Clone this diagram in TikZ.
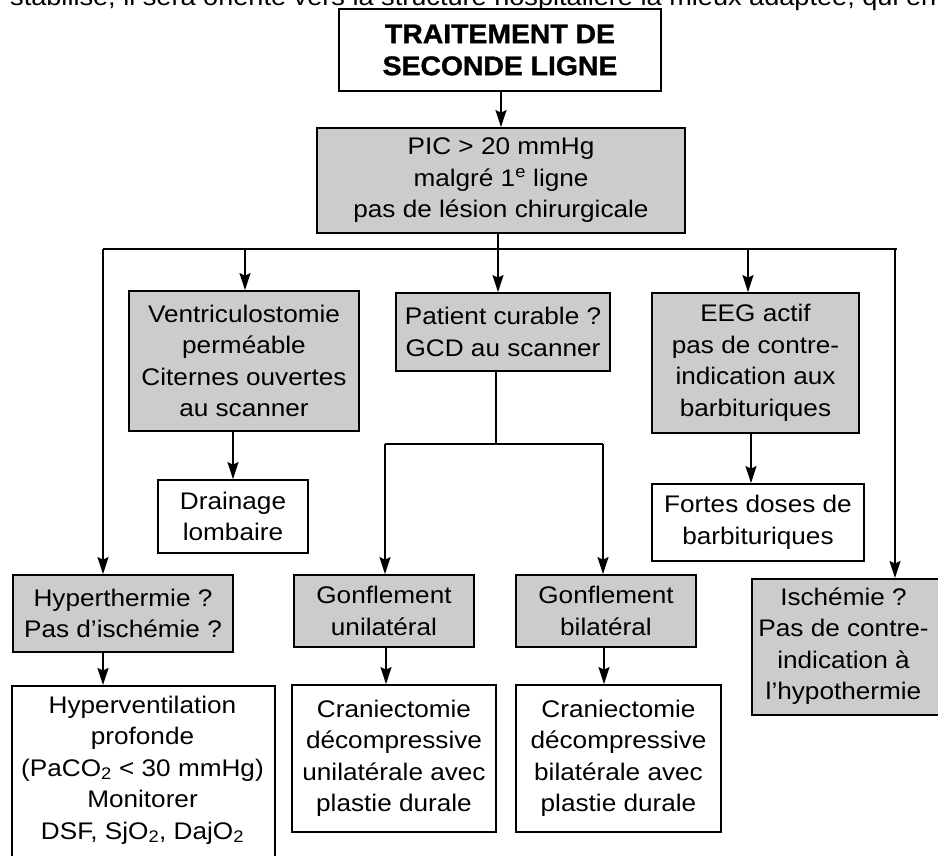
\documentclass[tikz,border=0pt]{standalone}
\usepackage{fontspec}
\setmainfont[FakeStretch=1.09]{Liberation Sans}
\newfontfamily\titlefont[FakeStretch=1.05,FakeBold=1.2]{Liberation Sans Bold}
\usetikzlibrary{arrows.meta}
\definecolor{boxgray}{HTML}{CCCCCC}
\begin{document}
\begin{tikzpicture}[x=1pt,y=-1pt,
  box/.style={draw=black, line width=1.8pt, align=center, inner sep=0pt, font=\fontsize{24}{31.5}\selectfont},
  gbox/.style={box, fill=boxgray},
  wbox/.style={box, fill=white},
  txt/.style={align=center, inner sep=0pt, font=\fontsize{24}{31.5}\selectfont},
  arr/.style={line width=1.6pt, -{Stealth[length=17pt,width=11pt,inset=2.5pt]}},
  ln/.style={line width=1.6pt}]
\useasboundingbox (0,0) rectangle (938,855);
\clip (0,0) rectangle (938,855);

\node[anchor=base west, inner sep=0pt, font=\fontsize{24.9}{28}\selectfont] (toptext) at (10,5)
  {stabilisé, il sera orienté vers la structure hospitalière la mieux adaptée, qui en};

% boxes
\node[wbox, minimum width=322, minimum height=82, font=\titlefont\fontsize{27}{32}\selectfont] (title) at (500,50)
  {TRAITEMENT DE\\SECONDE LIGNE};
\node[gbox, minimum width=368, minimum height=105] (pic) at (501,180.5)
  {PIC > 20 mmHg\\malgré 1\textsuperscript{e} ligne\\pas de lésion chirurgicale};
\node[gbox, minimum width=230, minimum height=140] (ventri) at (244,361)
  {Ventriculostomie\\perméable\\Citernes ouvertes\\au scanner};
\node[gbox, minimum width=214, minimum height=78] (patient) at (503,332)
  {Patient curable ?\\GCD au scanner};
\node[gbox, minimum width=207, minimum height=140] (eeg) at (755.5,363)
  {EEG actif\\pas de contre-\\indication aux\\barbituriques};
\node[wbox, minimum width=150, minimum height=73] (drain) at (233,516.5)
  {Drainage\\lombaire};
\node[wbox, minimum width=212, minimum height=77] (fortes) at (758,522.5)
  {Fortes doses de\\barbituriques};
\node[gbox, minimum width=220, minimum height=77] (hyper) at (123,613.5)
  {Hyperthermie ?\\Pas d'ischémie ?};
\node[gbox, minimum width=180, minimum height=72] (gonfu) at (384,611)
  {Gonflement\\unilatéral};
\node[gbox, minimum width=180, minimum height=72] (gonfb) at (606,611)
  {Gonflement\\bilatéral};
\node[gbox, minimum width=189, minimum height=136, anchor=north west] (isch) at (751,578) {};
\node[txt] (ischt) at (843.5,646)
  {Ischémie ?\\Pas de contre-\\indication à\\l'hypothermie};
\node[wbox, minimum width=263, minimum height=200, anchor=north west] (hv) at (11,685) {};
\node[txt] (hvt) at (142.5,770)
  {Hyperventilation\\profonde\\(PaCO\textsubscript{2} < 30 mmHg)\\Monitorer\\DSF, SjO\textsubscript{2}, DajO\textsubscript{2}};
\node[wbox, minimum width=204, minimum height=147] (cranu) at (394,758.5)
  {Craniectomie\\décompressive\\unilatérale avec\\plastie durale};
\node[wbox, minimum width=205, minimum height=147] (cranb) at (618.5,758.5)
  {Craniectomie\\décompressive\\bilatérale avec\\plastie durale};

% bus coordinates
\coordinate (busL) at (103,249);
\coordinate (busR) at (897,249);
\coordinate (j) at (498,249);
\coordinate (bV) at (245,249);
\coordinate (bE) at (748,249);
\coordinate (bI) at (895,249);
\coordinate (pj) at (496,444);
\coordinate (pjL) at (385,444);
\coordinate (pjR) at (603,444);

% connectors
\draw[arr] (title.south -| pic.north) -- (pic.north);
\draw[ln] (pic.south -| j) -- (j);
\draw[ln] (busL) -- (busR);
\draw[arr] (busL) -- (busL |- hyper.north);
\draw[arr] (bV) -- (bV |- ventri.north);
\draw[arr] (j) -- (j |- patient.north);
\draw[arr] (bE) -- (bE |- eeg.north);
\draw[arr] (bI) -- (bI |- isch.north);
\draw[arr] (drain.north |- ventri.south) -- (drain.north);
\draw[arr] (eeg.south -| 751,0) -- (fortes.north -| 751,0);
\draw[ln] (patient.south -| pj) -- (pj);
\draw[ln] (pjL) -- (pjR);
\draw[arr] (pjL) -- (pjL |- gonfu.north);
\draw[arr] (pjR) -- (pjR |- gonfb.north);
\draw[arr] (hyper.south -| busL) -- (hv.north -| busL);
\draw[arr] (gonfu.south -| 386,0) -- (cranu.north -| 386,0);
\draw[arr] (gonfb.south -| 604,0) -- (cranb.north -| 604,0);
\end{tikzpicture}
\end{document}
